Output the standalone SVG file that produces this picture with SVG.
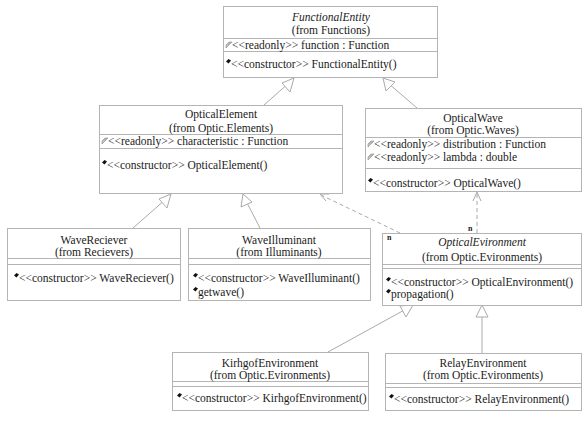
<svg xmlns="http://www.w3.org/2000/svg" width="588" height="423" viewBox="0 0 588 423">
<defs>
<style>
.box{fill:#fff;stroke:#b4b4b4;stroke-width:1}
.sep{stroke:#b4b4b4;stroke-width:1}
text{font-family:"Liberation Serif","Times New Roman",serif;font-size:11.5px;fill:#1a1a1a}
.c{text-anchor:middle}
.i{font-style:italic}
.n{font-size:8px;font-weight:bold}
.ln{fill:none;stroke:#aaa;stroke-width:1}
.dash{fill:none;stroke:#aaa;stroke-width:1;stroke-dasharray:4,3}
.tri{fill:#fff;stroke:#aaa;stroke-width:1}
</style>
<g id="attrIcon"><path d="M0,3 L3,0 L6,0 L3,3 L0,6 Z M1.5,3 L3.5,1 L4.5,1" fill="#c8c8c8" stroke="#888" stroke-width="0.6"/></g>
<g id="methIcon"><path d="M0,2.5 L2.5,0 L5,1.5 L2.5,4.5 Z" fill="#111"/></g>
</defs>
<rect width="588" height="423" fill="#fff"/>

<g id="connectors">
<line class="ln" x1="264" y1="105" x2="290" y2="82"/>
<polygon class="tri" points="294,78 282,83 290,92"/>
<line class="ln" x1="417" y1="108" x2="388" y2="83"/>
<polygon class="tri" points="383,78 386,91 395,82"/>
<line class="ln" x1="133" y1="228" x2="166" y2="199"/>
<polygon class="tri" points="171,194 159,199 167,208"/>
<line class="ln" x1="260" y1="228" x2="246" y2="201"/>
<polygon class="tri" points="243,194 241,207 252,202"/>
<line class="dash" x1="400" y1="233" x2="321" y2="195"/>
<polyline class="ln" points="329,194 320,194 326,201"/>
<line class="dash" x1="477" y1="233" x2="477" y2="193"/>
<polyline class="ln" points="473,201 477,192 481,201"/>
<line class="ln" x1="328" y1="352" x2="408" y2="308"/>
<polygon class="tri" points="413,305 400,306 406,317"/>
<line class="ln" x1="482" y1="353" x2="482" y2="317"/>
<polygon class="tri" points="482,305 476,317 488,317"/>
<text class="n" x="468" y="231">n</text>
</g>

<g id="FunctionalEntity">
<rect class="box" x="223.5" y="6.5" width="214" height="71"/>
<line class="sep" x1="223.5" y1="38.5" x2="437.5" y2="38.5"/>
<line class="sep" x1="223.5" y1="51.5" x2="437.5" y2="51.5"/>
<text class="c i" x="331" y="21">FunctionalEntity</text>
<text class="c" x="331" y="34">(from Functions)</text>
<use href="#attrIcon" x="226" y="42"/>
<text x="232" y="49">&lt;&lt;readonly&gt;&gt; function : Function</text>
<use href="#methIcon" x="226" y="59"/>
<text x="231" y="68">&lt;&lt;constructor&gt;&gt; FunctionalEntity()</text>
</g>

<g id="OpticalElement">
<rect class="box" x="99.5" y="105.5" width="243" height="88"/>
<line class="sep" x1="99.5" y1="134.5" x2="342.5" y2="134.5"/>
<line class="sep" x1="99.5" y1="148.5" x2="342.5" y2="148.5"/>
<text class="c" x="221" y="118">OpticalElement</text>
<text class="c" x="221" y="132">(from Optic.Elements)</text>
<use href="#attrIcon" x="102" y="138"/>
<text x="108" y="145">&lt;&lt;readonly&gt;&gt; characteristic : Function</text>
<use href="#methIcon" x="102" y="160"/>
<text x="107" y="169">&lt;&lt;constructor&gt;&gt; OpticalElement()</text>
</g>

<g id="OpticalWave">
<rect class="box" x="365.5" y="108.5" width="216" height="83"/>
<line class="sep" x1="365.5" y1="137.5" x2="581.5" y2="137.5"/>
<line class="sep" x1="365.5" y1="168.5" x2="581.5" y2="168.5"/>
<text class="c" x="473" y="122">OpticalWave</text>
<text class="c" x="473" y="134">(from Optic.Waves)</text>
<use href="#attrIcon" x="368" y="141"/>
<text x="374" y="148">&lt;&lt;readonly&gt;&gt; distribution : Function</text>
<use href="#attrIcon" x="368" y="154"/>
<text x="374" y="161">&lt;&lt;readonly&gt;&gt; lambda : double</text>
<use href="#methIcon" x="368" y="178"/>
<text x="373" y="187">&lt;&lt;constructor&gt;&gt; OpticalWave()</text>
</g>

<g id="WaveReciever">
<rect class="box" x="7.5" y="228.5" width="173" height="72"/>
<line class="sep" x1="7.5" y1="258.5" x2="180.5" y2="258.5"/>
<line class="sep" x1="7.5" y1="264.5" x2="180.5" y2="264.5"/>
<text class="c" x="94" y="244">WaveReciever</text>
<text class="c" x="94" y="256">(from Recievers)</text>
<use href="#methIcon" x="14" y="273"/>
<text x="19" y="282">&lt;&lt;constructor&gt;&gt; WaveReciever()</text>
</g>

<g id="WaveIlluminant">
<rect class="box" x="188.5" y="228.5" width="182" height="72"/>
<line class="sep" x1="188.5" y1="258.5" x2="370.5" y2="258.5"/>
<line class="sep" x1="188.5" y1="264.5" x2="370.5" y2="264.5"/>
<text class="c" x="279" y="244">WaveIlluminant</text>
<text class="c" x="279" y="256">(from Illuminants)</text>
<use href="#methIcon" x="193" y="273"/>
<text x="198" y="282">&lt;&lt;constructor&gt;&gt; WaveIlluminant()</text>
<use href="#methIcon" x="193" y="287"/>
<text x="198" y="296">getwave()</text>
</g>

<g id="OpticalEvironment">
<rect class="box" x="382.5" y="233.5" width="199" height="72"/>
<line class="sep" x1="382.5" y1="264.5" x2="581.5" y2="264.5"/>
<line class="sep" x1="382.5" y1="268.5" x2="581.5" y2="268.5"/>
<text class="n" x="387" y="240">n</text>
<text class="c i" x="482" y="246">OpticalEvironment</text>
<text class="c" x="482" y="261">(from Optic.Evironments)</text>
<use href="#methIcon" x="386" y="277"/>
<text x="391" y="286">&lt;&lt;constructor&gt;&gt; OpticalEnvironment()</text>
<use href="#methIcon" x="386" y="289"/>
<text x="391" y="298">propagation()</text>
</g>

<g id="KirhgofEnvironment">
<rect class="box" x="172.5" y="352.5" width="196" height="58"/>
<line class="sep" x1="172.5" y1="381.5" x2="368.5" y2="381.5"/>
<line class="sep" x1="172.5" y1="386.5" x2="368.5" y2="386.5"/>
<text class="c" x="270" y="367">KirhgofEnvironment</text>
<text class="c" x="270" y="379">(from Optic.Evironments)</text>
<use href="#methIcon" x="177" y="393"/>
<text x="182" y="402">&lt;&lt;constructor&gt;&gt; KirhgofEnvironment()</text>
</g>

<g id="RelayEnvironment">
<rect class="box" x="385.5" y="353.5" width="196" height="57"/>
<line class="sep" x1="385.5" y1="383.5" x2="581.5" y2="383.5"/>
<line class="sep" x1="385.5" y1="387.5" x2="581.5" y2="387.5"/>
<text class="c" x="483" y="367">RelayEnvironment</text>
<text class="c" x="483" y="379">(from Optic.Evironments)</text>
<use href="#methIcon" x="389" y="394"/>
<text x="394" y="403">&lt;&lt;constructor&gt;&gt; RelayEnvironment()</text>
</g>
</svg>
